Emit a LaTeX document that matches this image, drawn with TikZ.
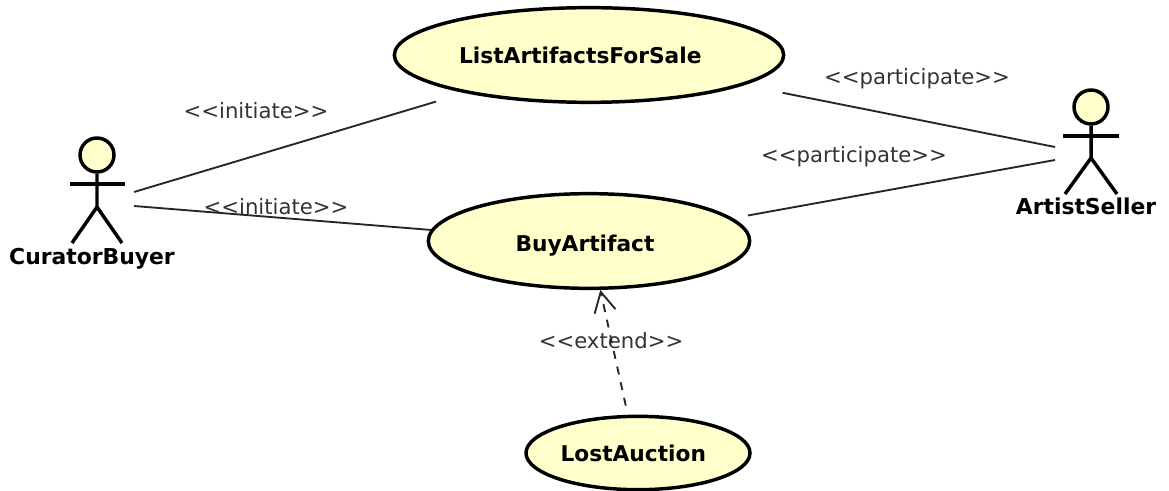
\documentclass[tikz,border=0pt]{standalone}
\usepackage{fontspec}
\setmainfont{DejaVu Sans}
\usetikzlibrary{shapes.geometric,arrows.meta}
\definecolor{usecasefill}{HTML}{FFFFCC}
\definecolor{labelgray}{HTML}{333333}
\newcommand{\stereo}[1]{<{}<#1>{}>}
\begin{document}
\begin{tikzpicture}[x=0.75pt,y=-0.75pt,
	usecase/.style={ellipse, draw=black, fill=usecasefill, line width=2.6pt, inner sep=0, font=\bfseries\fontsize{16.3}{18}\selectfont},
	head/.style={circle, draw=black, fill=usecasefill, line width=2.6pt, minimum size=25.5pt, inner sep=0},
	actorname/.style={font=\bfseries\fontsize{16.4}{18}\selectfont, inner sep=0},
	stereotype/.style={font=\fontsize{15.9}{18}\selectfont, text=labelgray, inner sep=0},
	limb/.style={line width=2.6pt},
	assoc/.style={line width=1.4pt, black!85}]
	\useasboundingbox (0,0) rectangle (1169,491);

	\node [usecase,minimum width=292pt,minimum height=71pt] (list) at (589,55) {ListArtifactsForSale\hspace*{13pt}};
	\node [usecase,minimum width=241pt,minimum height=71pt,text height=19pt,text depth=3pt] (buy) at (589,241) {BuyArtifact\hspace*{6pt}};
	\node [usecase,minimum width=168pt,minimum height=55pt] (lost) at (638,453) {LostAuction\hspace*{7pt}};

	\begin{scope}[shift={(97,155)}]
	\node [head] (buyer) at (0,0) {};
	\draw [limb] (buyer.south) -- (0,52) -- (-25,88);
	\draw [limb] (0,52) -- (25,88);
	\draw [limb] (-27,29) -- (28,29);
	\node [actorname] (buyername) at (-5,104) {CuratorBuyer};
	\coordinate (buyerup) at (37,37);
	\coordinate (buyerdown) at (37,51);
	\end{scope}

	\begin{scope}[shift={(1091,107)}]
	\node [head] (seller) at (0,0) {};
	\draw [limb] (seller.south) -- (0,51) -- (-26,87);
	\draw [limb] (0,51) -- (26,87);
	\draw [limb] (-28,29) -- (28,29);
	\node [actorname] (sellername) at (-5,99) {ArtistSeller};
	\coordinate (sellerup) at (-36,40);
	\coordinate (sellerdown) at (-36,53);
	\end{scope}

	\begin{scope}[assoc]
	\draw [shorten >=22.5pt] (buyerup) -- (list.197.7);
	\draw (buyerdown) -- (buy.176);
	\draw [shorten >=29.5pt] (sellerup) -- (list.349.6);
	\draw [shorten >=11.5pt] (sellerdown) -- (buy.9.6);
	\end{scope}

	\draw [assoc,dash pattern=on 6pt off 6pt,shorten <=7pt,-{Straight Barb[length=15pt,width=16pt]}] (lost.105) -- (buy.283);

	\node [stereotype] (initiateup) at (256,111) {\stereo{initiate}};
	\node [stereotype] (initiatedown) at (276,207) {\stereo{initiate}};
	\node [stereotype] (participateup) at (917,79) {\stereo{participate}};
	\node [stereotype] (participatedown) at (854,157) {\stereo{participate}};
	\node [stereotype] (extend) at (611,341) {\stereo{extend}};
\end{tikzpicture}
\end{document}
